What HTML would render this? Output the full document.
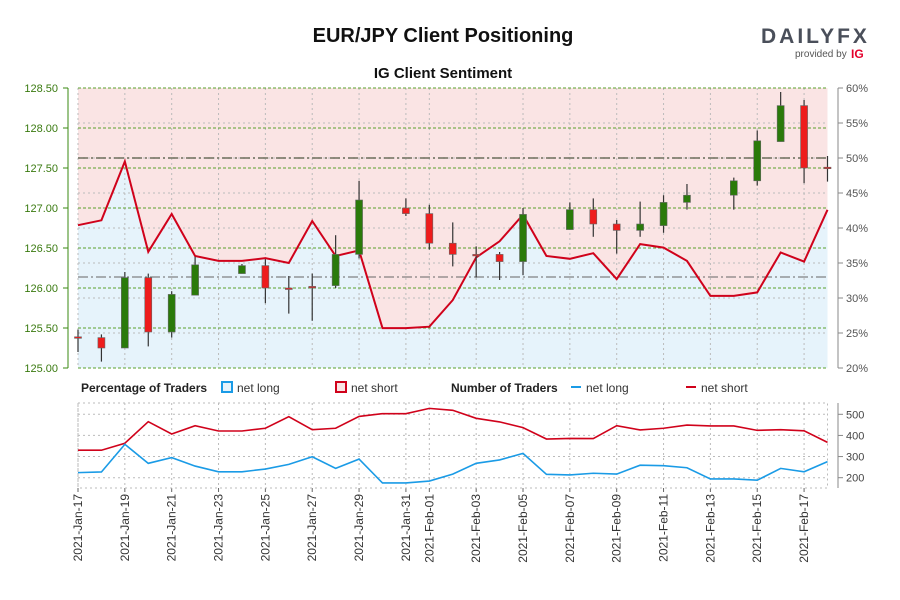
<!DOCTYPE html>
<html><head><meta charset="utf-8"><style>
body{margin:0;background:#fff;}
svg{display:block;font-family:"Liberation Sans",sans-serif;}
.n{font-family:"Liberation Sans Narrow","Liberation Sans",sans-serif;}
</style></head><body>
<svg id="c" width="900" height="600" viewBox="0 0 900 600">
<text x="443" y="42" text-anchor="middle" font-size="20" font-weight="bold" fill="#111">EUR/JPY Client Positioning</text>
<text x="443" y="78" text-anchor="middle" font-size="15" font-weight="bold" fill="#111">IG Client Sentiment</text>
<g>
<text x="761" y="43" font-size="21" font-weight="bold" fill="#4a4f5a" letter-spacing="3">DAILYFX</text>
<text x="795" y="57" font-size="10" fill="#555">provided by</text>
<text x="851" y="58" font-size="12" font-weight="bold" fill="#e4002b">IG</text>
</g>
<g id="main"></g>
<g id="legend" class="n" font-size="12">
<text x="81" y="392" font-weight="bold" fill="#222">Percentage of Traders</text>
<rect x="222" y="382" width="10" height="10" fill="#e6f3fb" stroke="#1a9be6" stroke-width="2"/>
<text x="237" y="392" fill="#333">net long</text>
<rect x="336" y="382" width="10" height="10" fill="#fae4e4" stroke="#d0021b" stroke-width="2"/>
<text x="351" y="392" fill="#333">net short</text>
<text x="451" y="392" font-weight="bold" fill="#222">Number of Traders</text>
<line x1="571" y1="387" x2="581" y2="387" stroke="#1a9be6" stroke-width="2"/>
<text x="586" y="392" fill="#333">net long</text>
<line x1="686" y1="387" x2="696" y2="387" stroke="#d0021b" stroke-width="2"/>
<text x="701" y="392" fill="#333">net short</text>
</g>
<g id="bot"></g>
</svg>
<script>
const dates=["2021-Jan-17","2021-Jan-18","2021-Jan-19","2021-Jan-20","2021-Jan-21","2021-Jan-22","2021-Jan-23","2021-Jan-24","2021-Jan-25","2021-Jan-26","2021-Jan-27","2021-Jan-28","2021-Jan-29","2021-Jan-30","2021-Jan-31","2021-Feb-01","2021-Feb-02","2021-Feb-03","2021-Feb-04","2021-Feb-05","2021-Feb-06","2021-Feb-07","2021-Feb-08","2021-Feb-09","2021-Feb-10","2021-Feb-11","2021-Feb-12","2021-Feb-13","2021-Feb-14","2021-Feb-15","2021-Feb-16","2021-Feb-17","2021-Feb-18"];
const xLabels=["2021-Jan-17","2021-Jan-19","2021-Jan-21","2021-Jan-23","2021-Jan-25","2021-Jan-27","2021-Jan-29","2021-Jan-31","2021-Feb-01","2021-Feb-03","2021-Feb-05","2021-Feb-07","2021-Feb-09","2021-Feb-11","2021-Feb-13","2021-Feb-15","2021-Feb-17"];
const netLongPct=[40.4,41.1,49.5,36.6,42.0,36.0,35.3,35.3,35.7,35.0,41.0,36.0,36.8,25.7,25.7,25.9,29.7,35.8,38.1,41.9,36.0,35.6,36.4,32.7,37.7,37.2,35.3,30.3,30.3,30.8,36.5,35.2,42.6];
const open =[125.39,125.38,125.25,126.13,125.45,125.91,null,126.18,126.28,126.0,126.02,126.03,126.42,null,127.0,126.93,126.56,126.42,126.42,126.33,null,126.73,126.98,126.8,126.72,126.78,127.07,null,127.16,127.34,127.83,128.28,127.51];
const high =[125.48,125.42,126.20,126.18,125.96,126.39,null,126.30,126.36,126.15,126.18,126.66,127.34,null,127.12,127.04,126.82,126.52,126.45,127.0,null,127.07,127.12,126.85,127.08,127.16,127.3,null,127.38,127.97,128.45,128.35,127.65];
const low  =[125.2,125.08,125.25,125.27,125.38,125.91,null,126.18,125.81,125.68,125.59,126.0,126.37,null,126.9,126.48,126.27,126.13,126.1,126.16,null,126.73,126.64,126.43,126.64,126.69,126.98,null,126.98,127.28,127.83,127.31,127.33];
const close=[125.39,125.25,126.13,125.45,125.92,126.29,null,126.28,126.0,126.0,126.02,126.42,127.1,null,126.93,126.56,126.42,126.42,126.33,126.92,null,126.98,126.8,126.72,126.8,127.07,127.16,null,127.34,127.84,128.28,127.5,127.51];
const netShortCount=[330,330,363,465,407,446,421,421,434,489,427,434,490,503,503,528,519,481,464,437,383,386,385,446,426,434,449,445,445,424,427,422,367];
const netLongCount=[224,227,358,268,295,255,228,228,241,263,299,244,288,175,175,184,217,268,284,315,216,213,221,217,259,257,247,194,194,188,244,228,276];
const priceTicks=["125.00","125.50","126.00","126.50","127.00","127.50","128.00","128.50"];
const pctTicks=["20%","25%","30%","35%","40%","45%","50%","55%","60%"];
const countTicks=["200","300","400","500"];

const NS="http://www.w3.org/2000/svg";
function mk(p,t,a){const e=document.createElementNS(NS,t);for(const k in a)e.setAttribute(k,a[k]);p.appendChild(e);return e;}
const X0=78,X1=827.5,DX=(X1-X0)/(dates.length-1);
const xs=i=>X0+i*DX;
const yP=v=>368-(v-125)*80;
const yPct=v=>368-(v-20)*7;
const yC=v=>414.3+(500-v)*0.2113;
const main=document.getElementById('main'),bot=document.getElementById('bot');
// shading
let lp=netLongPct.map((v,i)=>xs(i)+','+yPct(v)).join(' ');
let r=mk(main,'rect',{x:X0,y:88,width:X1-X0,height:280,fill:'#fae4e4'});

let bl=mk(main,'polygon',{points:X0+',368 '+lp+' '+X1+',368',fill:'#e6f3fb'});

// gridlines
pctTicks.forEach((t,k)=>{const y=yPct(20+k*5);
 if(k>0&&k<8){let g=mk(main,'line',{x1:X0,x2:X1,y1:y,y2:y,stroke:'#bbb','stroke-dasharray':'2,3'});}
 mk(main,'line',{x1:838,x2:843,y1:y,y2:y,stroke:'#888'});
 let tx=mk(main,'text',{x:846,y:y+4,'font-size':11,fill:'#555',class:'n'});tx.textContent=t;
 });
xLabels.forEach(l=>{const i=dates.indexOf(l),x=xs(i);
 let g=mk(main,'line',{x1:x,x2:x,y1:88,y2:368,stroke:'#bbb','stroke-dasharray':'2,3'});
 let g2=mk(bot,'line',{x1:x,x2:x,y1:403,y2:488,stroke:'#bbb','stroke-dasharray':'2,3'});
 mk(bot,'line',{x1:x,x2:x,y1:488,y2:492,stroke:'#666'});
 let tx=mk(bot,'text',{transform:`translate(${x+4},494) rotate(-90)`,'text-anchor':'end','font-size':12,fill:'#333',class:'n'});tx.textContent=l;
 });
priceTicks.forEach(t=>{const y=yP(+t);
 let g=mk(main,'line',{x1:X0,x2:X1,y1:y,y2:y,stroke:'#5aa02c','stroke-dasharray':'3,2','stroke-width':0.9});
 mk(main,'line',{x1:63,x2:68,y1:y,y2:y,stroke:'#3a8a10'});
 let tx=mk(main,'text',{x:58,y:y+4,'text-anchor':'end','font-size':11,fill:'#3a7a10',class:'n'});tx.textContent=t;
 });
mk(main,'line',{x1:68,x2:68,y1:88,y2:368,stroke:'#3a8a10'});
mk(main,'line',{x1:838,x2:838,y1:88,y2:368,stroke:'#888'});
// reference lines
let rl=mk(main,'line',{x1:X0,x2:X1,y1:yPct(50),y2:yPct(50),stroke:'#776',"stroke-width":2,'stroke-dasharray':'10,3,2,3',opacity:0.8});

let rl2=mk(main,'line',{x1:X0,x2:X1,y1:277,y2:277,stroke:'#666',"stroke-width":1,'stroke-dasharray':'10,3,2,3'});

// sentiment line
let sl=mk(main,'polyline',{points:lp,fill:'none',stroke:'#d0021b','stroke-width':2});

// candles
dates.forEach((d,i)=>{if(open[i]==null)return;const x=xs(i),up=close[i]>=open[i]&&close[i]!==open[i];
 const col=up?'#2a7a0a':'#ee1c1c';
 let w=mk(main,'line',{x1:x,x2:x,y1:yP(high[i]),y2:yP(low[i]),stroke:'#333','stroke-width':1.2});
 
 const yt=yP(Math.max(open[i],close[i])),yb=yP(Math.min(open[i],close[i]));
 let b=mk(main,'rect',{x:x-3.5,y:yt,width:7,height:Math.max(1.5,yb-yt),fill:col,stroke:'#666','stroke-width':0.6});
 });
// bottom chart
let bx=mk(bot,'rect',{x:X0,y:403,width:X1-X0,height:85,fill:'none',stroke:'#bbb','stroke-dasharray':'2,3'});

mk(bot,'line',{x1:838,x2:838,y1:403,y2:488,stroke:'#888'});
countTicks.forEach(t=>{const y=yC(+t);
 let g=mk(bot,'line',{x1:X0,x2:X1,y1:y,y2:y,stroke:'#bbb','stroke-dasharray':'2,3'});
 mk(bot,'line',{x1:838,x2:843,y1:y,y2:y,stroke:'#888'});
 let tx=mk(bot,'text',{x:846,y:y+4,'font-size':11,fill:'#444',class:'n'});tx.textContent=t;
 });
let sp=mk(bot,'polyline',{points:netShortCount.map((v,i)=>xs(i)+','+yC(v)).join(' '),fill:'none',stroke:'#d0021b','stroke-width':1.6});

let lpn=mk(bot,'polyline',{points:netLongCount.map((v,i)=>xs(i)+','+yC(v)).join(' '),fill:'none',stroke:'#1a9be6','stroke-width':1.6});

</script>
</body></html>
